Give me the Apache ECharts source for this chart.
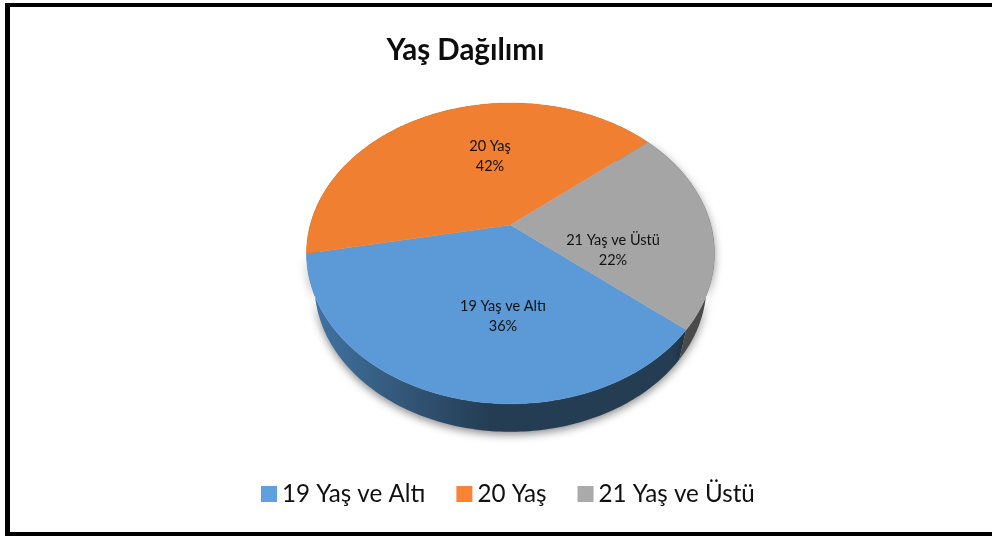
<!DOCTYPE html>
<html><head><meta charset="utf-8">
<style>html,body{margin:0;padding:0;background:#fff}#c{width:992px;height:536px}</style>
<script src="https://cdn.jsdelivr.net/npm/echarts@6/dist/echarts.min.js"></script>
</head><body><div id="c"></div>
<script>
var categories = ['19 Yaş ve Altı', '20 Yaş', '21 Yaş ve Üstü'];
var shares = [36, 42, 22];
var firstSliceAngle = 129.5;

var topColors = ['#5b9ad7', '#f07f31', '#a5a5a5'];
var legendColors = ['#5fa0de', '#fa8334', '#aaaaaa'];
var wallColors = [
  {type:'linear', x:318, y:0, x2:490, y2:0, global:true, colorStops:[
    {offset:0, color:'#3f729f'}, {offset:.45, color:'#34597c'}, {offset:1, color:'#243d53'}]},
  '#8a4a1c', '#4a4a4a'
];
var wallShadow = [0.45, 0, 0.45];
var FONT = 'Lato';
// projection of the flat disc on to the page (tilted, with perspective)
var view = {cx:510.5, cy:225, a:200.3, b:145, k:-0.189,
            ellipseCy:253.5, rx:204, ry:150.5, lowerRx:196, lowerRy:147, lowerCy:285};
var labelOffset = [[-7.5, 91.5], [-20.5, -68.5], [102.5, 25.5]];

function rim(deg){
  var t = deg*Math.PI/180, u = Math.sin(t), v = -Math.cos(t), d = 1 + view.k*v;
  return [view.cx + view.a*u/d, view.cy + view.b*v/d];
}
function lower(p){
  return [view.cx + (p[0]-view.cx)/view.rx*view.lowerRx,
          view.lowerCy + (p[1]-view.ellipseCy)/view.ry*view.lowerRy];
}
function sliceItem(idx){
  return function(){
    var total = shares.reduce(function(s,v){return s+v;},0);
    var before = shares.slice(0,idx).reduce(function(s,v){return s+v;},0);
    var a0 = firstSliceAngle + before/total*360;
    var a1 = a0 + shares[idx]/total*360;
    var arc = [];
    for (var d=a0; d<a1; d+=1) arc.push(rim(d));
    arc.push(rim(a1));
    var wall = arc.concat(arc.map(lower).reverse());
    var top = [[view.cx,view.cy]].concat(arc);
    var off = labelOffset[idx];
    return {type:'group', children:[
      {type:'polygon', z2:1, shape:{points:wall}, style:{fill:wallColors[idx],
        shadowBlur:9, shadowColor:'rgba(0,0,0,'+wallShadow[idx]+')', shadowOffsetY:3}},
      {type:'polygon', z2:10, shape:{points:top}, style:{fill:topColors[idx], stroke:topColors[idx], lineWidth:0.4}},
      {type:'text', z2:20, x:view.cx+off[0], y:view.cy+off[1], style:{
        text:categories[idx]+'\n'+shares[idx]+'%', fill:'#111', font:'14.5px '+FONT,
        align:'center', verticalAlign:'middle', lineHeight:20.5}}
    ]};
  };
}
var series = categories.map(function(name,i){
  return {type:'custom', name:name, coordinateSystem:'none', silent:true, animation:false,
    itemStyle:{color:topColors[i]}, data:[[shares[i]]], renderItem:sliceItem(i)};
});
var chart = echarts.init(document.getElementById('c'), null, {renderer:'canvas'});
chart.setOption({
  animation:false,
  backgroundColor:'#ffffff',
  title:{text:'Yaş Dağılımı', left:460.5, top:30, textAlign:'center',
    textStyle:{fontFamily:FONT, fontWeight:'bold', fontSize:29.5, color:'#0d0d0d'}},
  legend:{left:256, top:477, icon:'rect', itemWidth:16, itemHeight:16, itemGap:31,
    textStyle:{fontFamily:FONT, fontSize:24.2, color:'#111'},
    data:categories.map(function(n,i){return {name:n, itemStyle:{color:legendColors[i]}};})},
  graphic:[
    {type:'rect', shape:{x:5,y:3,width:987,height:4}, style:{fill:'#000'}, z:100},
    {type:'rect', shape:{x:5,y:3,width:5,height:533}, style:{fill:'#000'}, z:100},
    {type:'rect', shape:{x:5,y:532,width:987,height:4}, style:{fill:'#000'}, z:100}
  ],
  series:series
});
</script></body></html>
